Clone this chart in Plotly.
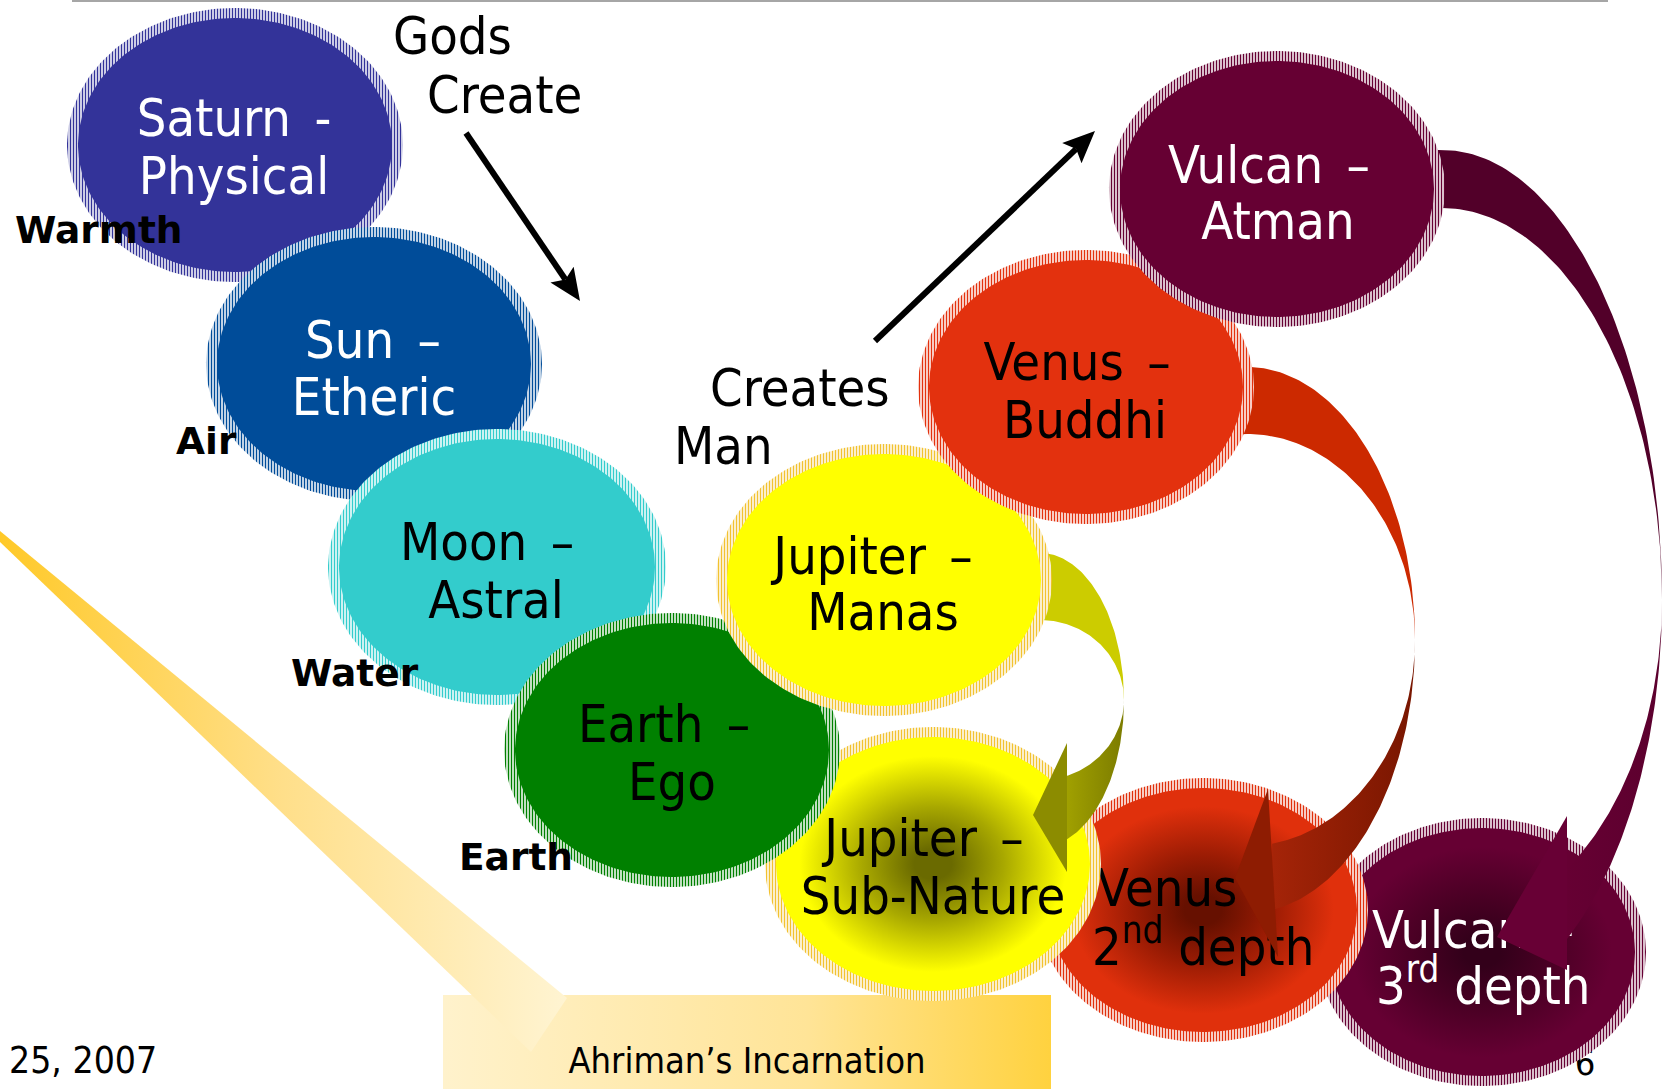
import numpy as np
import plotly.graph_objects as go

W, H = 1670, 1089

# ---------------- data ----------------
# circles, listed in drawing order (bottom -> top)
circle_names = ["Saturn", "Sun", "Moon", "Vulcan 3rd", "Venus 2nd", "Jupiter Sub-Nature",
                "Earth", "Jupiter Manas", "Venus Buddhi", "Vulcan Atman"]
circle_cx = [235, 374, 497, 1482, 1203, 933, 672, 884, 1086, 1277]
circle_cy = [145, 364, 567, 952, 910, 864, 750, 580, 387, 189]
circle_rx = [168, 168, 169, 164, 165, 168, 168, 168, 168, 168]
circle_ry = [137, 137, 138, 134, 132, 137, 137, 136, 137, 138]
circle_fill = ["#333399", "#004C99", "#33CCCC", "#660033", "#E0300C", "#FFFF00",
               "#008000", "#FFFF00", "#E3310E", "#660033"]
circle_ring = ["#333399", "#004C99", "#33CCCC", "#660033", "#E0300C", "#F2C230",
               "#008000", "#F2C230", "#E3310E", "#660033"]
circle_core = [None, None, None, "#33001A", "#661000", "#6A6A00", None, None, None, None]
circle_mid = [None, None, None, "#4A0024", "#9C1C04", "#A8A800", None, None, None, None]

SP = "\u2002"  # wide space used before the dashes
label_line1 = ["Saturn" + SP + "-", "Sun" + SP + "–", "Moon" + SP + "–", "Vulcan" + SP + "–",
               "Venus" + SP + "–", "Jupiter" + SP + "–", "Earth" + SP + "–", "Jupiter" + SP + "–",
               "Venus" + SP + "–", "Vulcan" + SP + "–"]
label_line2 = ["Physical", "Etheric", "Astral", "3<sup>rd</sup> depth", "2<sup>nd</sup> depth",
               "Sub-Nature", "Ego", "Manas", "Buddhi", "Atman"]
label_color = ["white", "white", "black", "white", "black", "black",
               "black", "black", "black", "white"]
label_x1 = [234, 373, 487, 1372, 1097, 924, 664, 873, 1077, 1269]
label_y1 = [123, 345, 547, 935, 893, 843, 729, 561, 367, 170]
label_x2 = [234, 374, 496, 1376, 1092, 933, 672, 883, 1085, 1278]
label_y2 = [181, 402, 605, 991, 952, 901, 787, 617, 425, 226]
label_anchor = ["middle center", "middle center", "middle center", "middle right", "middle right",
                "middle center", "middle center", "middle center", "middle center", "middle center"]

element_text = ["Warmth", "Air", "Water", "Earth"]
element_x = [15, 176, 291, 459]
element_y = [234, 445, 677, 861]

caption_text = ["Gods", "Create", "Creates", "Man"]
caption_x = [393, 427, 710, 674]
caption_y = [41, 100, 393, 451]

# curved arrows: ellipse crescent (cx, cy, rx, ry outer/inner for upper and lower half) + head
curve_names = ["Jupiter", "Venus", "Vulcan"]
curve_cx = [1040, 1247, 1442]
curve_cy = [700, 640, 600]
curve_rx = [84, 168, 220]
curve_ry_out = [147, 273, 450]
curve_ry_in = [80, 206, 392]
curve_ry_out_low = [147, 273, 412]
curve_ry_in_low = [80, 206, 327]
curve_end = [71.25, 81.4, 55.7]
curve_upper_color = ["#CCCC00", "#CC2900", "#520029"]
curve_lower_light = ["#A0A000", "#A52408", "#660033"]
curve_lower_dark = ["#7C7C00", "#781600", "#5C002E"]
curve_head_color = ["#8C8C00", "#8E1C02", "#680035"]
curve_head_x = [[1067, 1033, 1067], [1268, 1235, 1278], [1567, 1497, 1567]]
curve_head_y = [[743, 815, 872], [789, 878, 957], [816, 937, 970]]

# straight black arrows (start -> tip)
straight_start = [(466, 133), (875, 341)]
straight_tip = [(580, 301), (1095, 131)]

# Ahriman callout
box_x = [443, 1051]
box_y = [995, 1089]
beam_x = [0, 567, 531, 0]
beam_y = [531, 998, 1052, 542]

FONT = "DejaVu Sans Condensed, DejaVu Sans, Liberation Sans, sans-serif"

fig = go.Figure()


def poly(xs, ys, color=None, gradient=None, pattern=None):
    kw = dict(x=list(xs), y=list(ys), mode="lines", fill="toself",
              line=dict(width=0, color=color if color else "rgba(0,0,0,0)"),
              hoverinfo="skip", showlegend=False)
    if color is not None:
        kw["fillcolor"] = color
    if gradient is not None:
        kw["fillgradient"] = gradient
    if pattern is not None:
        kw["fillpattern"] = pattern
    fig.add_trace(go.Scatter(**kw))


def ellipse(cx, cy, rx, ry, n=240):
    t = np.linspace(0, 2 * np.pi, n)
    return cx + rx * np.cos(t), cy + ry * np.sin(t)


def text(xs, ys, txt, size, color="black", pos="middle center", family=FONT):
    fig.add_trace(go.Scatter(x=list(xs), y=list(ys), mode="text", text=list(txt),
                             textposition=pos, hoverinfo="skip", showlegend=False,
                             textfont=dict(family=family, size=size, color=color)))


def draw_circle(i):
    ox, oy = ellipse(circle_cx[i], circle_cy[i], circle_rx[i], circle_ry[i])
    poly(ox, oy, "white", pattern=dict(shape="|", fgcolor=circle_ring[i], bgcolor="white",
                                       size=3, solidity=0.5, fillmode="replace"))
    ix, iy = ellipse(circle_cx[i], circle_cy[i], circle_rx[i] - 11, circle_ry[i] - 10)
    if circle_core[i] is None:
        poly(ix, iy, circle_fill[i])
    else:
        poly(ix, iy, circle_fill[i], gradient=dict(
            type="radial",
            colorscale=[[0, circle_core[i]], [0.12, circle_core[i]], [0.45, circle_mid[i]],
                        [0.85, circle_fill[i]], [1, circle_fill[i]]]))
    text([label_x1[i], label_x2[i]], [label_y1[i], label_y2[i]],
         [label_line1[i], label_line2[i]], 52, label_color[i], label_anchor[i])


def draw_curve(k):
    cx, cy, rx = curve_cx[k], curve_cy[k], curve_rx[k]
    t = np.radians(np.linspace(-100, 0, 90))
    xs = np.concatenate([cx + rx * np.cos(t), cx + rx * np.cos(t[::-1])])
    ys = np.concatenate([cy + curve_ry_out[k] * np.sin(t), cy + curve_ry_in[k] * np.sin(t[::-1])])
    poly(xs, ys, curve_upper_color[k])
    t = np.radians(np.linspace(0, curve_end[k], 90))
    xs = np.concatenate([cx + rx * np.cos(t), cx + rx * np.cos(t[::-1])])
    ys = np.concatenate([cy + curve_ry_out_low[k] * np.sin(t),
                         cy + curve_ry_in_low[k] * np.sin(t[::-1])])
    poly(xs, ys, curve_lower_dark[k], gradient=dict(
        type="horizontal", colorscale=[[0, curve_lower_light[k]], [1, curve_lower_dark[k]]]))
    poly(curve_head_x[k], curve_head_y[k], curve_head_color[k])


# ---- top rule
fig.add_trace(go.Scatter(x=[72, 1608], y=[1, 1], mode="lines", line=dict(color="#A6A6A6", width=2),
                         hoverinfo="skip", showlegend=False))

# ---- Ahriman callout box + beam
poly([box_x[0], box_x[1], box_x[1], box_x[0]], [box_y[0], box_y[0], box_y[1], box_y[1]], "#FFE9A0",
     gradient=dict(type="horizontal", colorscale=[[0, "#FFF2CC"], [0.6, "#FFE497"], [1, "#FFD23F"]]))
poly(beam_x, beam_y, "#FFE08A",
     gradient=dict(type="horizontal", colorscale=[[0, "#FFC928"], [0.5, "#FFDF8A"], [1, "#FFF4D2"]]))
text([747], [1064], ["Ahriman’s Incarnation"], 36, "black")
text([9], [1064], ["25, 2007"], 37, "black", "middle right")
text([1585], [1066], ["6"], 36, "black")

# ---- circles (lower group)
for i in range(7):
    draw_circle(i)

# ---- curved arrows
for k in range(3):
    draw_curve(k)

# ---- circles (upper group)
for i in range(7, 10):
    draw_circle(i)

# ---- element labels
text(element_x, element_y, ["<b>%s</b>" % s for s in element_text], 37.5, "black", "middle right",
     family="DejaVu Sans, Verdana, sans-serif")

# ---- captions
text(caption_x, caption_y, caption_text, 52, "black", "middle right")

# ---- straight black arrows
for (sx, sy), (tx, ty) in zip(straight_start, straight_tip):
    d = np.array([tx - sx, ty - sy], float)
    d /= np.linalg.norm(d)
    nrm = np.array([-d[1], d[0]])
    tip = np.array([tx, ty], float)
    L, hw, notch = 32, 14, 6
    base = tip - d * L
    neck = tip - d * (L - notch)
    fig.add_trace(go.Scatter(x=[sx, neck[0]], y=[sy, neck[1]], mode="lines",
                             line=dict(color="black", width=6), hoverinfo="skip", showlegend=False))
    hx = [tip[0], (base + nrm * hw)[0], neck[0], (base - nrm * hw)[0]]
    hy = [tip[1], (base + nrm * hw)[1], neck[1], (base - nrm * hw)[1]]
    poly(hx, hy, "black")

fig.update_layout(
    width=W, height=H, margin=dict(l=0, r=0, t=0, b=0),
    paper_bgcolor="white", plot_bgcolor="white", showlegend=False,
    xaxis=dict(range=[0, W], visible=False, fixedrange=True),
    yaxis=dict(range=[H, 0], visible=False, fixedrange=True),
)

fig.write_html("out.html", config={"displayModeBar": False},
               post_script="document.body.style.margin='0';document.body.style.overflow='hidden';")
